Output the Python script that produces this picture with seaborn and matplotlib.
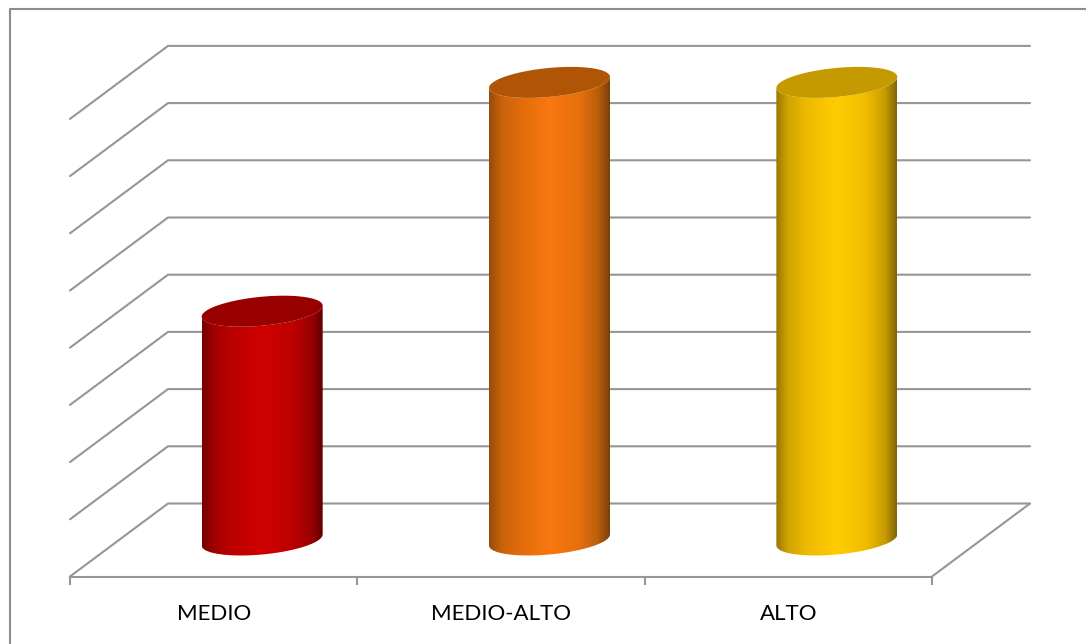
#recreate the 3d cylinder chart with seaborn + matplotlib
import numpy as np
import seaborn as sns
from matplotlib import pyplot as plt
from matplotlib.colors import LinearSegmentedColormap
from matplotlib.lines import Line2D
from matplotlib.patches import PathPatch, Polygon
from matplotlib.path import Path

niveles = ['MEDIO', 'MEDIO-ALTO', 'ALTO']
valores = [4, 8, 8]
grid_valores = [0, 1, 2, 3, 4, 5, 6, 7, 8]

#colours of each cylinder: left edge to right edge, then the lid
stops = [0, 0.1, 0.25, 0.5, 0.75, 0.9, 1]
body_colors = [['#740000', '#a30000', '#bd0000', '#cf0000', '#bd0000', '#980000', '#5a0000'],
               ['#944c0a', '#c9620b', '#e06b0b', '#f9780f', '#e6700c', '#bd5e0c', '#7a3f0a'],
               ['#9a7800', '#d0a400', '#eeba00', '#ffcc00', '#f0bc00', '#c89c00', '#80660a']]
lid_colors = ['#980000', '#b05406', '#c49a00']
gris = '#969696'

W, H = 1086, 644
left, right, base = 70, 932, 576.5
unit_y = 57.2   #pixels for one value
unit_x = (right - left) / 3
depth_x = 98 / unit_x
depth_y = 73 / unit_y
#ellipse shape in data units
elip_b = 14.5 / unit_y
elip_s = 5.5 / unit_y

sns.set_style('white')
plt.rcParams['font.family'] = ['Lato', 'DejaVu Sans']

fig = plt.figure(figsize=(W / 100, H / 100), dpi=100)
ax = fig.add_axes([left / W, 1 - base / H, (right - left) / W, 8 * unit_y / H])

sns.barplot(x=niveles, y=valores, hue=niveles, palette=lid_colors, width=121 / unit_x,
            saturation=1, legend=False, ax=ax)
ax.set_xlim(-0.5, 2.5)
ax.set_ylim(0, 8)
ax.set_yticks([])
ax.patch.set_alpha(0)

#walls and floor
for v in grid_valores:
    ax.plot([-0.5, -0.5 + depth_x, 2.5 + depth_x], [v, v + depth_y, v + depth_y],
            color=gris, lw=1.5, clip_on=False, zorder=1, solid_joinstyle='miter')
ax.plot([2.5, 2.5 + depth_x], [0, depth_y], color=gris, lw=1.5, clip_on=False, zorder=1)


def elipse(cx, cy, a, t):
    return np.column_stack([cx + a * np.cos(t), cy + elip_b * np.sin(t) + elip_s * np.cos(t)])


#cylinders sit in the middle of the floor, bars only give the geometry
bars = ax.patches
for bar, cols, lid in zip(bars, body_colors, lid_colors):
    bar.set_x(bar.get_x() + (depth_x - 1 / unit_x) / 2)
    bar.set_y(depth_y / 2)
    bar.set_facecolor('none')
    bar.set_linewidth(0)
    x0, x1 = bar.get_x(), bar.get_x() + bar.get_width()
    y0, y1 = bar.get_y(), bar.get_y() + bar.get_height()
    cx, a = (x0 + x1) / 2, (x1 - x0) / 2

    t = np.linspace(np.pi, 2 * np.pi, 80)
    low = elipse(cx, y0, a, t)
    up = elipse(cx, y1, a, t[::-1])
    outline = np.vstack([low, up, low[:1]])
    clip = PathPatch(Path(outline), transform=ax.transData, facecolor='none', edgecolor='none')
    ax.add_patch(clip)

    cmap = LinearSegmentedColormap.from_list('cil', list(zip(stops, cols)))
    img = ax.imshow(np.linspace(0, 1, 256)[None, :], cmap=cmap, aspect='auto', zorder=3,
                    extent=[x0, x1, y0 - 1, y1 + 1], interpolation='bilinear')
    #the lid goes above the axes box, so the image may not stop there
    img.set_clip_box(fig.bbox)
    img.set_clip_path(clip)

    tapa = elipse(cx, y1, a, np.linspace(0, 2 * np.pi, 160))
    ax.add_patch(Polygon(tapa, closed=True, facecolor=lid, edgecolor='none', zorder=4, clip_on=False))

ax.set_xlim(-0.5, 2.5)
ax.set_ylim(0, 8)

#axis line with ticks between the categories
sns.despine(ax=ax, left=True)
ax.spines['bottom'].set_color(gris)
ax.spines['bottom'].set_linewidth(1.5)
ax.set_xticks([0, 1, 2], niveles)
ax.set_xticks([-0.5, 0.5, 1.5, 2.5], minor=True)
ax.tick_params(axis='x', which='major', length=0, pad=19.5, labelsize=16, labelcolor='black')
ax.tick_params(axis='x', which='minor', length=6, width=1.5, color=gris, bottom=True)

#outer frame, only left and top show
fig.add_artist(Line2D([10 / W, 10 / W, 1], [0, 1 - 9 / H, 1 - 9 / H], color='#8c8c8c', lw=1.5))

fig.savefig('out.png', dpi=100)
